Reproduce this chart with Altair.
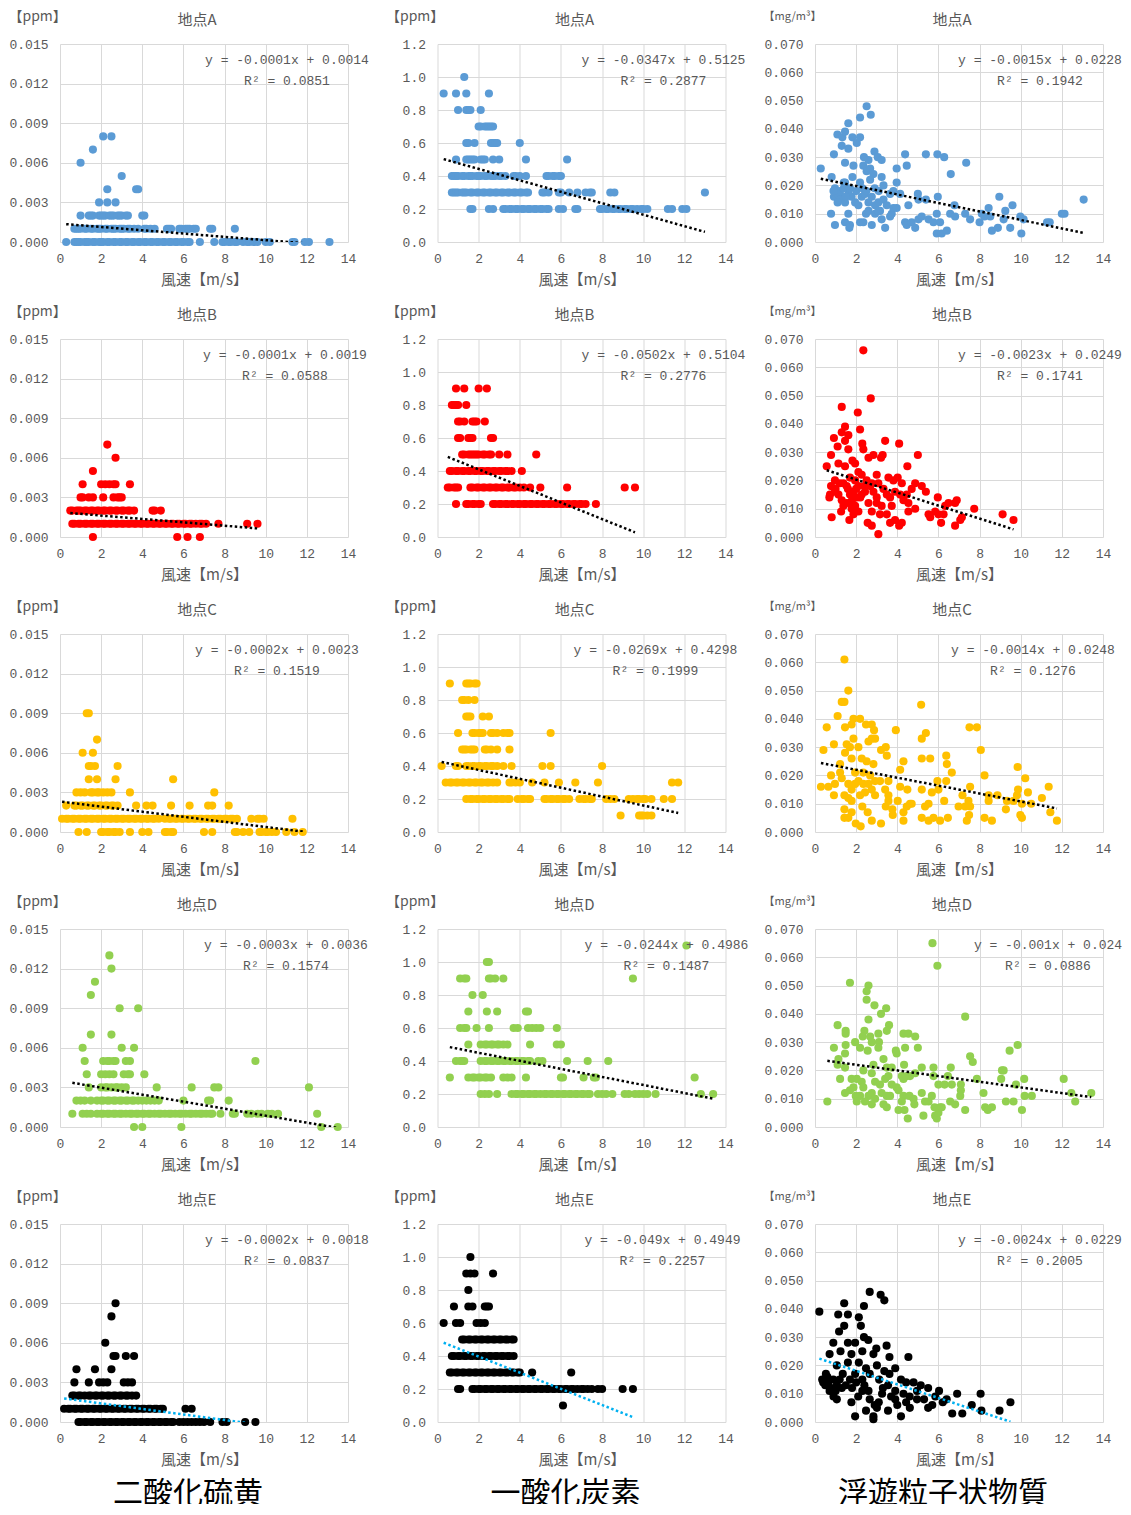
import altair as alt
import pandas as pd

# ---------------- labels / ticks ----------------
SITES = ["地点A", "地点B", "地点C", "地点D", "地点E"]
POLLUTANTS = ["二酸化硫黄", "一酸化炭素", "浮遊粒子状物質"]
UNITS = ["【ppm】", "【ppm】", "【mg/m³】"]
X_TICKS = [0, 2, 4, 6, 8, 10, 12, 14]
SO2_TICKS = [0.0, 0.003, 0.006, 0.009, 0.012, 0.015]
CO_TICKS = [0.0, 0.2, 0.4, 0.6, 0.8, 1.0, 1.2]
SPM_TICKS = [0.0, 0.01, 0.02, 0.03, 0.04, 0.05, 0.06, 0.07]
COLORS = ["#5B9BD5", "#FF0000", "#FFC000", "#92D050", "#000000"]
TREND_COLORS = ["#000000", "#000000", "#000000", "#000000", "#00B0F0"]

EQ_SO2 = ["y = -0.0001x + 0.0014", "y = -0.0001x + 0.0019", "y = -0.0002x + 0.0023",
          "y = -0.0003x + 0.0036", "y = -0.0002x + 0.0018"]
R2_SO2 = ["R² = 0.0851", "R² = 0.0588", "R² = 0.1519", "R² = 0.1574", "R² = 0.0837"]
EQ_CO = ["y = -0.0347x + 0.5125", "y = -0.0502x + 0.5104", "y = -0.0269x + 0.4298",
         "y = -0.0244x + 0.4986", "y = -0.049x + 0.4949"]
R2_CO = ["R² = 0.2877", "R² = 0.2776", "R² = 0.1999", "R² = 0.1487", "R² = 0.2257"]
EQ_SPM = ["y = -0.0015x + 0.0228", "y = -0.0023x + 0.0249", "y = -0.0014x + 0.0248",
          "y = -0.001x + 0.024", "y = -0.0024x + 0.0229"]
R2_SPM = ["R² = 0.1942", "R² = 0.1741", "R² = 0.1276", "R² = 0.0886", "R² = 0.2005"]

# trend lines (slope, intercept) as drawn
TREND_SO2 = [(-0.000125, 0.00139), (-0.000128, 0.00188), (-0.000193, 0.00231),
             (-0.000265, 0.00351), (-0.00021, 0.00183)]
TREND_CO = [(-0.0347, 0.5125), (-0.0502, 0.5104), (-0.0269, 0.4298),
            (-0.0244, 0.4986), (-0.049, 0.4949)]
TREND_SPM = [(-0.0015, 0.0228), (-0.0023, 0.0249), (-0.0014, 0.0248),
             (-0.001, 0.024), (-0.0024, 0.0229)]

# ---------------- SO2 data (level -> wind speeds) ----------------
SO2_A = {
    0.008: [2.1, 2.5], 0.007: [1.6], 0.006: [1.0], 0.005: [3.0],
    0.004: [2.3, 3.7, 3.8], 0.003: [1.9, 2.3, 2.7],
    0.002: [1.0, 1.4, 1.5, 1.6, 1.9, 2.0, 2.1, 2.2, 2.4, 2.5, 2.6, 2.8, 2.9, 3.0, 3.2, 3.3, 4.0, 4.1],
    0.001: [0.7, 0.8, 0.9, 1.0, 1.2, 1.3, 1.5, 1.6, 1.8, 1.9, 2.0, 2.2, 2.3, 2.5, 2.6, 2.7, 2.9, 3.0,
            3.1, 3.3, 3.4, 3.6, 3.8, 4.1, 4.2, 4.4, 4.6, 5.2, 5.3, 5.4, 5.8, 5.9, 6.1, 6.2, 6.3, 6.5,
            6.6, 7.3, 7.4, 8.5],
    0.000: [0.3, 0.7, 0.8, 0.9, 1.0, 1.2, 1.3, 1.4, 1.6, 1.7, 1.9, 2.0, 2.1, 2.3, 2.4, 2.6, 2.7, 2.9,
            3.0, 3.2, 3.3, 3.5, 3.6, 3.8, 3.9, 4.1, 4.2, 4.4, 4.5, 4.7, 4.8, 5.0, 5.1, 5.3, 5.4, 5.6,
            5.7, 5.9, 6.0, 6.2, 6.3, 6.8, 7.5, 7.9, 8.0, 8.2, 8.3, 8.5, 8.6, 8.9, 9.1, 9.2, 9.4, 9.6,
            10.0, 10.2, 11.3, 11.4, 11.9, 12.1, 13.1],
}
SO2_B = {
    0.007: [2.3], 0.006: [2.7], 0.005: [1.6],
    0.004: [1.1, 2.0, 2.2, 2.4, 2.6, 2.7, 3.4],
    0.003: [1.0, 1.1, 1.4, 1.6, 2.1, 2.6, 2.8, 2.9, 3.0],
    0.002: [0.5, 0.6, 0.8, 0.9, 1.0, 1.2, 1.3, 1.5, 1.6, 1.8, 1.9, 2.1, 2.2, 2.4, 2.5, 2.7, 2.8, 3.0,
            3.1, 3.3, 3.4, 3.6, 4.5, 4.6, 4.9],
    0.001: [0.6, 0.7, 0.9, 1.0, 1.2, 1.3, 1.5, 1.6, 1.8, 1.9, 2.1, 2.2, 2.4, 2.5, 2.7, 2.8, 3.0, 3.1,
            3.3, 3.4, 3.6, 3.7, 3.9, 4.0, 4.2, 4.3, 4.5, 4.6, 4.8, 4.9, 5.1, 5.2, 5.4, 5.5, 5.7, 5.8,
            6.0, 6.1, 6.3, 6.4, 6.6, 6.8, 6.9, 7.1, 7.7, 9.1, 9.6],
    0.000: [1.6, 5.7, 6.2, 6.8],
}
SO2_C = {
    0.009: [1.3, 1.4], 0.007: [1.8], 0.006: [1.1, 1.6],
    0.005: [1.4, 1.5, 1.7, 2.8], 0.004: [1.4, 1.8, 2.7, 5.5],
    0.003: [0.8, 1.0, 1.2, 1.5, 1.6, 1.8, 1.9, 2.1, 2.3, 2.5, 3.4, 7.5],
    0.002: [0.3, 0.7, 0.8, 1.0, 1.1, 1.3, 1.4, 1.6, 1.7, 1.9, 2.0, 2.2, 2.3, 2.5, 2.6, 2.8, 3.7, 4.2,
            4.5, 5.4, 6.3, 7.2, 7.4, 8.2],
    0.001: [0.1, 0.3, 0.4, 0.6, 0.7, 0.9, 1.0, 1.2, 1.3, 1.5, 1.6, 1.8, 1.9, 2.1, 2.2, 2.4, 2.5, 2.7,
            2.8, 3.0, 3.1, 3.3, 3.4, 3.6, 3.7, 3.9, 4.0, 4.2, 4.3, 4.5, 4.6, 4.8, 5.1, 5.3, 5.4, 5.6,
            5.7, 5.9, 6.0, 6.2, 6.3, 6.5, 6.6, 6.8, 6.9, 7.1, 7.2, 7.4, 7.5, 7.7, 7.8, 8.0, 8.1, 8.3,
            8.4, 8.6, 9.3, 9.6, 9.7, 9.9, 11.3],
    0.000: [0.9, 1.3, 2.0, 2.1, 2.3, 2.4, 2.6, 2.7, 2.9, 3.4, 4.0, 4.3, 5.1, 5.2, 5.4, 5.5, 7.0, 7.4,
            8.5, 8.6, 8.9, 9.2, 9.7, 9.8, 10.0, 10.1, 10.3, 10.5, 11.0, 11.4, 11.8],
}
SO2_D = {
    0.013: [2.4], 0.012: [2.5], 0.011: [1.7], 0.010: [1.5], 0.009: [2.9, 3.8],
    0.007: [1.5, 2.5], 0.006: [1.1, 3.0, 3.6],
    0.005: [1.2, 2.1, 2.3, 2.4, 2.6, 2.7, 3.2, 3.4, 9.5],
    0.004: [1.3, 2.0, 2.2, 2.4, 2.6, 3.1, 3.3, 3.4, 4.1],
    0.003: [1.4, 2.0, 2.2, 2.3, 2.5, 2.7, 2.8, 3.0, 3.2, 4.7, 6.4, 7.5, 7.7, 12.1],
    0.002: [0.8, 1.0, 1.2, 1.5, 1.8, 2.0, 2.1, 2.3, 2.4, 2.6, 2.7, 2.9, 3.0, 3.2, 3.3, 3.5, 3.6, 3.8,
            4.0, 4.2, 4.4, 4.6, 4.8, 6.0, 7.2, 7.3, 8.2],
    0.001: [0.6, 1.1, 1.3, 1.5, 1.8, 2.0, 2.1, 2.3, 2.4, 2.6, 2.7, 2.9, 3.0, 3.2, 3.4, 3.5, 3.7, 3.8,
            4.0, 4.1, 4.3, 4.4, 4.6, 4.8, 4.9, 5.1, 5.3, 5.4, 5.6, 5.8, 5.9, 6.1, 6.3, 6.4, 6.6, 6.8,
            6.9, 7.1, 7.3, 7.4, 7.8, 8.4, 8.5, 9.1, 9.3, 9.6, 9.8, 10.1, 10.3, 10.6, 12.5],
    0.000: [3.6, 4.0, 5.9, 12.7, 13.5],
}
SO2_E = {
    0.009: [2.7], 0.008: [2.5], 0.006: [2.2], 0.005: [2.6, 2.7, 3.2, 3.6],
    0.004: [0.8, 1.7, 2.5],
    0.003: [0.7, 1.4, 1.9, 2.1, 2.3, 3.1, 3.3, 3.5],
    0.002: [0.6, 0.7, 0.9, 1.0, 1.2, 1.4, 1.5, 1.7, 1.8, 2.0, 2.1, 2.3, 2.4, 2.6, 2.7, 2.9, 3.0, 3.2,
            3.3, 3.5, 3.7],
    0.001: [0.2, 0.4, 0.5, 0.7, 0.8, 1.0, 1.1, 1.3, 1.4, 1.6, 1.7, 1.9, 2.0, 2.2, 2.3, 2.5, 2.6, 2.8,
            2.9, 3.1, 3.2, 3.4, 3.5, 3.7, 3.8, 4.0, 4.1, 4.3, 4.4, 4.6, 4.7, 4.9, 5.0, 6.1, 6.4],
    0.000: [0.9, 1.0, 1.2, 1.3, 1.5, 1.6, 1.8, 1.9, 2.1, 2.2, 2.4, 2.5, 2.7, 2.8, 3.0, 3.1, 3.3, 3.4,
            3.6, 3.7, 3.9, 4.0, 4.2, 4.3, 4.5, 4.6, 4.8, 4.9, 5.1, 5.2, 5.4, 5.5, 5.8, 6.0, 6.2, 6.4,
            6.6, 6.8, 7.0, 7.3, 7.9, 8.1, 9.0, 9.5],
}

# ---------------- CO data (level -> wind speeds) ----------------
CO_A = {
    1.0: [1.3], 0.9: [0.3, 0.9, 1.4, 2.5], 0.8: [1.0, 1.4, 1.5, 1.6, 2.1],
    0.7: [2.0, 2.1, 2.3, 2.4, 2.5, 2.6, 2.7],
    0.6: [1.4, 1.5, 1.8, 2.6, 2.7, 2.8, 2.9, 4.0],
    0.5: [0.9, 1.4, 1.5, 1.6, 1.7, 1.8, 2.1, 2.2, 2.3, 2.7, 3.0, 4.3, 6.3],
    0.4: [0.7, 0.8, 0.9, 1.0, 1.2, 1.3, 1.5, 1.6, 1.7, 1.9, 2.0, 2.1, 2.3, 2.4, 2.6, 2.7, 2.8, 3.0,
          3.1, 3.3, 3.7, 3.8, 4.0, 4.3, 5.3, 5.4, 5.6, 5.7, 5.9, 6.0],
    0.3: [0.7, 0.8, 0.9, 1.0, 1.2, 1.3, 1.4, 1.6, 1.7, 1.9, 2.0, 2.2, 2.3, 2.5, 2.6, 2.8, 2.9, 3.1,
          3.2, 3.4, 3.5, 3.7, 3.8, 4.0, 4.1, 4.3, 4.4, 5.1, 5.2, 5.4, 5.9, 6.0, 6.4, 6.8, 7.2, 7.4,
          7.5, 8.4, 8.6, 13.0],
    0.2: [1.6, 1.7, 2.5, 2.7, 3.2, 3.3, 3.5, 3.6, 3.8, 3.9, 4.1, 4.2, 4.4, 4.5, 4.7, 4.8, 5.0, 5.1,
          5.3, 5.4, 5.9, 6.1, 6.7, 6.8, 7.9, 8.0, 8.2, 8.3, 8.5, 8.6, 8.8, 8.9, 9.1, 9.2, 9.4, 9.5,
          9.7, 9.9, 10.0, 10.2, 11.2, 11.4, 11.9, 12.1],
}
CO_B = {
    0.9: [0.9, 1.3, 2.0, 2.4], 0.8: [0.7, 0.8, 0.9, 1.0, 1.4],
    0.7: [1.0, 1.1, 1.3, 1.7, 1.8, 1.9, 2.3],
    0.6: [1.0, 1.1, 1.5, 1.6, 1.7, 2.6, 2.7],
    0.5: [1.2, 1.3, 1.5, 1.6, 1.7, 1.8, 1.9, 2.0, 2.2, 2.3, 2.5, 2.6, 3.0, 3.4, 4.8],
    0.4: [0.6, 0.7, 0.9, 1.0, 1.2, 1.3, 1.5, 1.6, 1.8, 1.9, 2.1, 2.2, 2.4, 2.5, 2.7, 2.8, 3.0, 3.1,
          3.3, 3.4, 3.6, 4.1],
    0.3: [0.5, 0.6, 0.8, 0.9, 1.0, 1.6, 1.7, 1.9, 2.0, 2.2, 2.3, 2.5, 2.6, 2.8, 2.9, 3.1, 3.2, 3.4,
          3.5, 3.7, 3.8, 4.0, 4.2, 4.5, 5.0, 6.3, 9.1, 9.6],
    0.2: [0.9, 1.4, 1.5, 1.7, 1.8, 2.0, 2.1, 2.7, 2.8, 3.0, 3.1, 3.3, 3.4, 3.6, 3.7, 3.9, 4.0, 4.2,
          4.3, 4.5, 4.6, 4.8, 4.9, 5.1, 5.2, 5.4, 5.5, 5.7, 5.8, 6.0, 6.1, 6.3, 6.4, 6.6, 6.7, 6.9,
          7.0, 7.2, 7.7],
}
CO_C = {
    0.9: [0.6, 1.4, 1.5, 1.6, 1.8, 1.9], 0.8: [1.2, 1.3, 1.5, 1.8],
    0.7: [1.4, 1.5, 1.6, 2.2, 2.5],
    0.6: [1.0, 1.7, 1.8, 2.0, 2.1, 2.2, 2.6, 2.7, 2.9, 3.2, 3.4, 3.5, 5.5],
    0.5: [1.2, 1.3, 1.4, 1.6, 1.7, 1.8, 2.3, 2.4, 2.6, 2.9, 3.5],
    0.4: [0.2, 0.9, 1.0, 1.4, 1.5, 1.7, 1.8, 2.0, 2.1, 2.3, 2.4, 2.6, 2.7, 2.9, 3.2, 3.6, 5.1, 5.5, 8.0],
    0.3: [0.4, 0.6, 0.7, 0.9, 1.0, 1.2, 1.3, 1.5, 1.6, 1.8, 1.9, 2.1, 2.2, 2.4, 2.5, 2.7, 2.9, 3.5,
          3.6, 3.8, 4.0, 4.6, 5.2, 5.9, 6.7, 7.8, 11.4, 11.7],
    0.2: [1.4, 1.6, 1.7, 1.9, 2.0, 2.2, 2.3, 2.5, 2.6, 2.8, 2.9, 3.1, 3.2, 3.4, 3.5, 3.9, 4.1, 4.2,
          4.4, 4.5, 5.2, 5.3, 5.5, 5.6, 5.8, 5.9, 6.1, 6.2, 6.4, 6.9, 7.1, 7.2, 7.4, 7.5, 8.2, 8.4,
          8.6, 9.3, 9.5, 9.7, 9.8, 10.0, 10.1, 10.4, 11.0, 11.4],
    0.1: [8.9, 9.8, 9.9, 10.0, 10.2, 10.4],
}
CO_D = {
    1.1: [12.1], 1.0: [2.4, 2.5], 0.9: [1.1, 1.3, 1.4, 2.5, 2.6, 2.8, 3.2, 9.5],
    0.8: [1.7, 2.2], 0.7: [1.5, 2.4, 2.9, 4.3, 4.4],
    0.6: [1.1, 1.3, 1.4, 1.9, 2.5, 3.7, 3.9, 4.4, 4.6, 4.8, 5.0, 5.8],
    0.5: [1.5, 2.1, 2.3, 2.4, 2.6, 2.7, 2.9, 3.0, 3.2, 3.4, 4.5, 5.8, 6.0],
    0.4: [0.9, 1.1, 1.2, 1.3, 2.1, 2.3, 2.4, 2.6, 2.7, 2.9, 3.0, 3.2, 3.3, 3.5, 3.6, 3.8, 3.9, 4.1,
          4.2, 4.4, 4.5, 4.9, 5.1, 6.3, 7.3, 8.3],
    0.3: [0.6, 1.5, 1.7, 1.8, 2.0, 2.1, 2.3, 2.4, 2.6, 3.2, 3.4, 3.6, 4.3, 6.0, 6.1, 7.1, 7.6, 7.7, 12.5],
    0.2: [2.1, 2.3, 2.5, 2.9, 3.6, 3.8, 3.9, 4.1, 4.2, 4.4, 4.5, 4.7, 4.8, 5.0, 5.2, 5.3, 5.5, 5.6,
          5.8, 5.9, 6.1, 6.2, 6.4, 6.5, 6.7, 6.8, 7.0, 7.1, 7.3, 7.4, 7.8, 8.0, 8.2, 8.5, 9.1, 9.3,
          9.6, 9.8, 10.0, 10.2, 10.6, 12.8, 13.4],
}
CO_E = {
    1.0: [1.6], 0.9: [1.4, 1.6, 1.8, 2.7], 0.8: [1.5],
    0.7: [0.8, 1.5, 1.7, 2.3, 2.4, 2.5],
    0.6: [0.3, 0.9, 1.1, 1.9, 2.1, 2.3],
    0.5: [1.2, 1.3, 1.5, 1.6, 1.8, 1.9, 2.1, 2.2, 2.4, 2.5, 2.7, 2.8, 3.0, 3.1, 3.3, 3.4, 3.6, 3.7],
    0.4: [0.7, 0.8, 1.0, 1.1, 1.3, 1.4, 1.6, 1.7, 1.9, 2.0, 2.2, 2.3, 2.5, 2.6, 2.8, 2.9, 3.1, 3.2,
          3.4, 3.5, 3.7],
    0.3: [0.6, 0.7, 0.9, 1.0, 1.2, 1.3, 1.5, 1.6, 1.8, 1.9, 2.1, 2.2, 2.4, 2.5, 2.7, 2.8, 3.0, 3.1,
          3.3, 3.4, 3.6, 3.7, 3.9, 4.0, 4.6, 6.5],
    0.2: [1.0, 1.1, 1.7, 1.8, 2.0, 2.1, 2.3, 2.4, 2.6, 2.7, 2.9, 3.0, 3.2, 3.3, 3.5, 3.6, 3.8, 3.9,
          4.1, 4.2, 4.4, 4.5, 4.7, 4.8, 5.0, 5.1, 5.3, 5.4, 5.6, 5.7, 5.9, 6.0, 6.2, 6.3, 6.5, 6.6,
          6.8, 7.0, 7.1, 7.3, 7.5, 7.8, 8.0, 9.0, 9.5],
    0.1: [6.1],
}

# ---------------- SPM data (wind speed, concentration) ----------------
SPM_A = [
    (0.28, 0.026), (0.81, 0.023), (0.92, 0.031), (0.78, 0.010), (0.97, 0.006), (1.09, 0.038),
    (1.33, 0.037), (1.46, 0.039), (1.62, 0.042), (2.19, 0.044), (2.51, 0.048), (2.71, 0.045),
    (1.82, 0.037), (2.03, 0.035), (2.19, 0.037), (1.62, 0.033), (1.30, 0.034), (1.46, 0.028),
    (1.87, 0.027), (2.38, 0.030), (2.60, 0.029), (2.89, 0.032), (3.05, 0.030), (3.24, 0.029),
    (1.82, 0.023), (1.46, 0.021), (2.19, 0.021), (2.35, 0.027), (2.51, 0.025), (2.68, 0.026),
    (2.84, 0.024), (3.24, 0.023), (3.33, 0.020), (2.68, 0.022), (0.97, 0.019), (1.22, 0.018),
    (0.92, 0.016), (1.30, 0.016), (1.46, 0.014), (1.62, 0.017), (1.78, 0.016), (1.95, 0.014),
    (2.11, 0.013), (2.27, 0.016), (2.43, 0.017), (2.60, 0.014), (2.76, 0.016), (2.92, 0.013),
    (3.08, 0.014), (3.16, 0.011), (3.33, 0.015), (3.49, 0.013), (1.62, 0.010), (1.46, 0.007),
    (1.70, 0.006), (1.67, 0.005), (2.19, 0.007), (2.35, 0.007), (2.48, 0.010), (2.76, 0.006),
    (2.60, 0.011), (2.92, 0.010), (3.08, 0.011), (3.24, 0.008), (3.41, 0.005), (3.65, 0.009),
    (3.73, 0.010), (3.81, 0.012), (3.65, 0.017), (3.81, 0.018), (3.97, 0.021), (3.97, 0.026),
    (3.97, 0.012), (4.14, 0.017), (4.38, 0.031), (4.46, 0.027), (4.38, 0.007), (4.46, 0.006),
    (4.54, 0.013), (4.70, 0.007), (4.87, 0.005), (5.03, 0.008), (5.00, 0.017), (5.03, 0.015),
    (5.19, 0.009), (5.39, 0.031), (5.39, 0.015), (5.52, 0.008), (5.76, 0.007), (5.92, 0.010),
    (5.97, 0.016), (5.95, 0.031), (6.08, 0.007), (5.92, 0.003), (6.16, 0.003), (6.41, 0.004),
    (6.28, 0.030), (6.60, 0.024), (6.57, 0.010), (6.78, 0.013), (6.81, 0.009), (7.30, 0.010),
    (7.35, 0.028), (7.54, 0.008), (8.00, 0.007), (8.11, 0.010), (8.24, 0.009), (8.44, 0.012),
    (8.52, 0.009), (8.60, 0.004), (8.89, 0.005), (8.96, 0.016), (9.17, 0.008), (9.25, 0.011),
    (9.49, 0.005), (9.60, 0.013), (9.98, 0.009), (10.03, 0.003), (10.14, 0.008), (11.28, 0.007),
    (11.41, 0.007), (12.00, 0.010), (12.13, 0.010), (13.06, 0.015), (1.10, 0.017), (1.20, 0.015),
    (1.40, 0.019), (1.50, 0.016), (1.70, 0.019), (2.00, 0.018), (2.30, 0.019), (2.50, 0.018),
    (2.90, 0.019), (3.10, 0.018), (1.10, 0.014), (1.40, 0.021), (0.90, 0.018),
]
SPM_B = [
    (2.35, 0.066), (2.71, 0.049), (1.30, 0.046), (2.08, 0.044), (2.19, 0.038), (1.46, 0.039),
    (1.30, 0.037), (1.62, 0.036), (0.92, 0.035), (1.10, 0.032), (1.46, 0.034), (1.62, 0.031),
    (2.30, 0.033), (2.35, 0.031), (3.41, 0.034), (4.09, 0.033), (0.78, 0.029), (1.14, 0.026),
    (1.82, 0.027), (1.95, 0.026), (2.60, 0.028), (2.84, 0.029), (3.21, 0.028), (3.29, 0.029),
    (5.00, 0.029), (4.49, 0.025), (0.57, 0.025), (1.46, 0.025), (2.11, 0.023), (2.27, 0.022),
    (3.00, 0.022), (0.97, 0.020), (1.38, 0.019), (1.70, 0.021), (1.95, 0.020), (2.51, 0.020),
    (2.76, 0.019), (3.08, 0.019), (3.57, 0.021), (3.81, 0.020), (4.02, 0.021), (4.22, 0.019),
    (4.87, 0.019), (5.19, 0.018), (5.39, 0.016), (0.78, 0.018), (0.73, 0.015), (0.70, 0.014),
    (0.97, 0.016), (1.14, 0.015), (1.30, 0.013), (1.54, 0.018), (1.70, 0.015), (1.87, 0.016),
    (2.03, 0.014), (2.11, 0.018), (2.27, 0.015), (2.43, 0.016), (2.68, 0.018), (2.84, 0.016),
    (3.00, 0.014), (3.33, 0.017), (3.49, 0.015), (3.65, 0.014), (3.89, 0.016), (4.14, 0.015),
    (4.30, 0.013), (4.46, 0.015), (4.70, 0.017), (1.38, 0.011), (1.54, 0.012), (1.78, 0.010),
    (1.95, 0.011), (2.11, 0.009), (1.87, 0.008), (1.27, 0.009), (0.81, 0.007), (1.67, 0.006),
    (2.60, 0.012), (2.76, 0.009), (3.00, 0.012), (3.24, 0.011), (3.16, 0.008), (3.49, 0.008),
    (3.73, 0.011), (3.65, 0.005), (3.89, 0.006), (4.09, 0.004), (4.22, 0.005), (4.54, 0.012),
    (4.54, 0.009), (4.87, 0.010), (2.56, 0.005), (2.76, 0.004), (3.08, 0.001), (5.52, 0.008),
    (5.60, 0.007), (5.84, 0.009), (5.97, 0.014), (6.00, 0.008), (6.13, 0.005), (6.25, 0.008),
    (6.33, 0.011), (6.49, 0.012), (6.81, 0.012), (6.89, 0.013), (6.81, 0.004), (7.06, 0.006),
    (7.14, 0.007), (7.74, 0.010), (9.12, 0.008), (9.65, 0.006), (1.0, 0.017), (1.2, 0.019),
    (1.6, 0.017), (1.8, 0.013), (2.0, 0.017), (2.2, 0.014), (2.4, 0.018), (1.7, 0.012),
]
SPM_C = [
    (1.43, 0.061), (1.62, 0.050), (1.30, 0.046), (1.43, 0.046), (5.16, 0.045), (1.10, 0.041),
    (0.57, 0.037), (1.46, 0.037), (1.78, 0.038), (1.87, 0.040), (2.19, 0.040), (2.48, 0.038),
    (2.76, 0.038), (2.87, 0.036), (3.93, 0.036), (7.51, 0.037), (7.87, 0.037), (5.19, 0.033),
    (5.39, 0.035), (1.87, 0.033), (2.60, 0.032), (2.76, 0.033), (2.92, 0.033), (0.41, 0.029),
    (0.92, 0.031), (1.54, 0.031), (1.70, 0.030), (2.11, 0.030), (3.21, 0.029), (3.44, 0.030),
    (3.49, 0.027), (8.06, 0.029), (6.38, 0.027), (5.19, 0.026), (5.60, 0.026), (1.46, 0.028),
    (1.78, 0.026), (2.27, 0.026), (2.51, 0.025), (2.84, 0.024), (1.22, 0.024), (6.41, 0.024),
    (6.65, 0.021), (9.85, 0.023), (0.78, 0.020), (1.22, 0.021), (1.95, 0.021), (2.35, 0.021),
    (2.68, 0.020), (4.14, 0.022), (4.30, 0.025), (8.24, 0.020), (10.22, 0.019), (0.29, 0.016),
    (0.65, 0.016), (0.97, 0.017), (1.30, 0.019), (1.62, 0.017), (1.78, 0.015), (1.95, 0.017),
    (2.11, 0.018), (2.35, 0.017), (2.60, 0.017), (2.76, 0.015), (2.92, 0.018), (3.16, 0.018),
    (3.57, 0.018), (3.41, 0.015), (3.57, 0.013), (2.92, 0.013), (4.14, 0.016), (4.49, 0.015),
    (5.19, 0.015), (5.68, 0.014), (5.95, 0.018), (6.00, 0.015), (6.38, 0.018), (7.54, 0.016),
    (7.17, 0.013), (8.44, 0.013), (8.87, 0.013), (9.82, 0.013), (9.87, 0.015), (10.35, 0.014),
    (11.03, 0.012), (11.36, 0.016), (0.92, 0.013), (1.43, 0.013), (1.62, 0.012), (1.78, 0.011),
    (2.19, 0.013), (2.43, 0.014), (3.57, 0.011), (4.02, 0.011), (2.30, 0.009), (2.56, 0.007),
    (1.43, 0.008), (1.78, 0.007), (1.43, 0.005), (1.62, 0.005), (1.98, 0.003), (2.22, 0.002),
    (2.76, 0.004), (3.21, 0.003), (3.44, 0.009), (3.76, 0.008), (3.78, 0.006), (4.30, 0.004),
    (4.30, 0.007), (4.46, 0.009), (4.62, 0.010), (4.70, 0.010), (5.19, 0.005), (5.52, 0.004),
    (5.52, 0.010), (5.35, 0.009), (5.76, 0.005), (6.08, 0.004), (6.28, 0.011), (6.46, 0.005),
    (6.98, 0.009), (7.30, 0.009), (7.46, 0.011), (7.49, 0.006), (7.38, 0.004), (7.54, 0.009),
    (8.24, 0.005), (8.44, 0.011), (8.60, 0.004), (9.28, 0.008), (9.33, 0.011), (9.65, 0.011),
    (9.98, 0.006), (10.06, 0.005), (10.06, 0.010), (10.51, 0.010), (11.44, 0.007), (11.76, 0.004),
]
SPM_D = [
    (5.71, 0.065), (5.95, 0.057), (1.70, 0.051), (2.60, 0.050), (2.51, 0.048), (2.51, 0.045),
    (2.89, 0.043), (3.21, 0.040), (3.46, 0.042), (7.30, 0.039), (2.60, 0.038), (1.10, 0.036),
    (3.60, 0.036), (3.49, 0.034), (1.49, 0.034), (1.49, 0.033), (2.40, 0.034), (4.30, 0.033),
    (4.54, 0.033), (4.87, 0.032), (1.95, 0.030), (2.32, 0.032), (2.68, 0.032), (2.76, 0.030),
    (3.08, 0.033), (3.11, 0.030), (0.92, 0.028), (1.49, 0.029), (2.19, 0.028), (2.56, 0.027),
    (3.08, 0.028), (3.93, 0.027), (4.38, 0.028), (5.00, 0.028), (9.46, 0.027), (9.85, 0.029),
    (1.46, 0.026), (3.97, 0.026), (7.54, 0.025), (7.67, 0.023), (1.14, 0.024), (3.33, 0.024),
    (4.33, 0.022), (2.84, 0.022), (1.10, 0.022), (1.46, 0.021), (2.35, 0.020), (2.76, 0.019),
    (3.49, 0.021), (3.73, 0.021), (4.22, 0.018), (4.87, 0.019), (5.19, 0.021), (5.76, 0.021),
    (6.60, 0.021), (9.09, 0.020), (9.17, 0.020), (5.76, 0.018), (6.46, 0.018), (7.09, 0.015),
    (7.87, 0.017), (9.05, 0.017), (10.17, 0.017), (9.77, 0.015), (12.09, 0.017), (1.22, 0.017),
    (1.78, 0.017), (2.03, 0.017), (2.27, 0.016), (1.87, 0.014), (1.70, 0.013), (2.35, 0.014),
    (2.92, 0.016), (3.16, 0.015), (3.41, 0.017), (3.57, 0.018), (3.73, 0.015), (3.97, 0.014),
    (4.30, 0.017), (4.46, 0.018), (4.62, 0.018), (6.00, 0.015), (6.30, 0.015), (6.65, 0.015),
    (7.09, 0.013), (1.46, 0.012), (1.98, 0.011), (2.19, 0.011), (2.03, 0.009), (2.60, 0.011),
    (2.76, 0.012), (2.92, 0.010), (3.24, 0.012), (3.49, 0.011), (3.65, 0.011), (3.33, 0.008),
    (3.49, 0.007), (2.76, 0.008), (2.43, 0.009), (4.06, 0.013), (4.30, 0.011), (4.22, 0.009),
    (4.06, 0.006), (4.35, 0.006), (4.51, 0.003), (4.59, 0.011), (4.79, 0.010), (4.83, 0.008),
    (5.19, 0.012), (5.27, 0.004), (5.35, 0.009), (5.52, 0.009), (5.68, 0.011), (5.81, 0.007),
    (5.84, 0.004), (5.92, 0.003), (6.00, 0.005), (6.08, 0.007), (6.16, 0.007), (6.57, 0.009),
    (6.81, 0.008), (7.06, 0.011), (7.30, 0.006), (8.19, 0.012), (8.27, 0.007), (8.40, 0.006),
    (8.60, 0.007), (9.28, 0.009), (9.65, 0.009), (10.06, 0.006), (10.19, 0.011), (10.54, 0.011),
    (12.46, 0.012), (12.65, 0.009), (13.43, 0.012), (0.60, 0.009),
]
SPM_E = [
    (0.21, 0.039), (1.42, 0.042), (1.13, 0.038), (1.60, 0.038), (2.38, 0.041), (2.13, 0.037),
    (2.66, 0.046), (3.19, 0.045), (3.37, 0.043), (1.42, 0.034), (1.17, 0.032), (2.23, 0.034),
    (2.38, 0.030), (2.59, 0.029), (0.89, 0.028), (1.60, 0.028), (1.95, 0.028), (2.98, 0.026),
    (3.48, 0.027), (0.71, 0.024), (1.24, 0.025), (1.77, 0.024), (2.30, 0.025), (2.84, 0.024),
    (3.62, 0.023), (4.54, 0.023), (1.06, 0.020), (1.60, 0.021), (2.13, 0.021), (2.48, 0.019),
    (3.01, 0.020), (3.37, 0.018), (3.90, 0.019), (0.53, 0.017), (0.35, 0.015), (0.64, 0.014),
    (0.89, 0.015), (1.06, 0.013), (1.35, 0.017), (1.70, 0.015), (1.95, 0.017), (2.30, 0.015),
    (2.66, 0.017), (3.12, 0.015), (3.62, 0.017), (4.18, 0.015), (4.43, 0.014), (5.14, 0.013),
    (5.50, 0.012), (6.03, 0.011), (6.91, 0.010), (8.05, 0.010), (0.71, 0.011), (1.06, 0.008),
    (1.77, 0.007), (1.95, 0.002), (2.30, 0.011), (2.66, 0.008), (2.84, 0.002), (3.01, 0.005),
    (3.26, 0.010), (3.55, 0.004), (3.90, 0.008), (4.18, 0.002), (4.43, 0.007), (4.61, 0.005),
    (4.96, 0.008), (5.50, 0.005), (5.85, 0.009), (6.21, 0.007), (6.67, 0.003), (7.16, 0.003),
    (7.62, 0.006), (8.09, 0.004), (8.97, 0.004), (9.50, 0.007), (4.96, 0.011), (3.55, 0.013),
    (3.90, 0.011), (2.48, 0.004), (2.84, 0.001), (4.79, 0.014), (0.40, 0.014), (0.50, 0.013),
    (0.60, 0.016), (0.80, 0.012), (1.00, 0.011), (1.20, 0.015), (1.30, 0.012), (0.90, 0.009),
    (1.50, 0.013), (1.80, 0.012), (2.00, 0.014), (2.10, 0.009), (2.40, 0.013), (2.60, 0.011),
    (2.90, 0.006), (3.10, 0.007), (3.30, 0.012), (3.70, 0.009), (4.00, 0.006), (4.30, 0.010),
    (4.60, 0.009), (5.30, 0.008), (5.70, 0.006), (6.40, 0.008),
]

# ---------------- styling ----------------
FONT_NUM = "'Liberation Mono', 'Noto Sans CJK JP', monospace"
FONT_JP = "'Noto Sans CJK JP', sans-serif"
GRAY = "#595959"
GRID = "#D9D9D9"
W, H = 288, 198
# equation label centre (pixels from plot left) per pollutant column, per site row
EQ_X = [[227, 225, 217, 226, 227],
        [226, 226, 218, 229, 225],
        [225, 225, 218, 233, 225]]
UNIT_X = [-52, -52, -52]


def levels_df(levels):
    xs, ys = [], []
    for lv, vals in levels.items():
        xs += vals
        ys += [lv] * len(vals)
    return pd.DataFrame({"x": xs, "y": ys})


def pairs_df(pairs):
    return pd.DataFrame({"x": [p[0] for p in pairs], "y": [p[1] for p in pairs]})


KINDS = [
    dict(data=[levels_df(d) for d in (SO2_A, SO2_B, SO2_C, SO2_D, SO2_E)], dom=[0, 0.015],
         ticks=SO2_TICKS, fmt=".3f", eq=EQ_SO2, r2=R2_SO2, trend=TREND_SO2, usize=14),
    dict(data=[levels_df(d) for d in (CO_A, CO_B, CO_C, CO_D, CO_E)], dom=[0, 1.2],
         ticks=CO_TICKS, fmt=".1f", eq=EQ_CO, r2=R2_CO, trend=TREND_CO, usize=14),
    dict(data=[pairs_df(d) for d in (SPM_A, SPM_B, SPM_C, SPM_D, SPM_E)], dom=[0, 0.07],
         ticks=SPM_TICKS, fmt=".3f", eq=EQ_SPM, r2=R2_SPM, trend=TREND_SPM, usize=11),
]


def text_layer(txt, x, y, font, size, color):
    return alt.Chart(pd.DataFrame({"t": [txt]})).mark_text(
        font=font, fontSize=size, color=color, align="center", baseline="middle"
    ).encode(x=alt.value(x), y=alt.value(y), text="t:N")


def panel(k, i):
    kd = KINDS[k]
    df = kd["data"][i]
    xenc = alt.X("x:Q", scale=alt.Scale(domain=[0, 14], nice=False, zero=False),
                 axis=alt.Axis(values=X_TICKS, format="d", title="風速【m/s】"))
    yenc = alt.Y("y:Q", scale=alt.Scale(domain=kd["dom"], nice=False, zero=False),
                 axis=alt.Axis(values=kd["ticks"], format=kd["fmt"], title=UNITS[k],
                               titleAngle=0, titleAlign="left", titleBaseline="middle",
                               titleX=UNIT_X[k], titleY=-28, titleFontSize=kd["usize"]))
    pts = alt.Chart(df).mark_circle(size=66, opacity=1, color=COLORS[i]).encode(x=xenc, y=yenc)
    slope, icpt = kd["trend"][i]
    x0, x1 = float(df["x"].min()), float(df["x"].max())
    tdf = pd.DataFrame({"x": [x0, x1], "y": [slope * x0 + icpt, slope * x1 + icpt]})
    line = alt.Chart(tdf).mark_line(color=TREND_COLORS[i], strokeWidth=2.5, strokeDash=[2.5, 2.5],
                                    clip=True).encode(x=xenc, y=yenc)
    layers = [pts, line,
              text_layer(kd["eq"][i], EQ_X[k][i], 16, FONT_NUM, 13, GRAY),
              text_layer(kd["r2"][i], EQ_X[k][i], 37, FONT_NUM, 13, GRAY),
              text_layer(SITES[i], W / 2 - 7, -24, FONT_JP, 15, GRAY)]
    if i == 4:
        layers.append(text_layer(POLLUTANTS[k], W / 2 - 16, H + 72, FONT_JP, 30, "#000000"))
    return alt.layer(*layers).properties(width=W, height=H)


cells = [panel(k, i) for i in range(5) for k in range(3)]

chart = alt.concat(*cells, columns=3, spacing={"row": 97, "column": 89.5}, bounds="flush").properties(
    padding={"left": 0, "top": 1, "right": -1, "bottom": -5}
).configure_view(stroke=None).configure_axis(
    grid=True, gridColor=GRID, gridWidth=1, domain=False, ticks=False,
    labelFont=FONT_NUM, labelFontSize=13, labelColor=GRAY, labelOverlap=False,
    titleFont=FONT_JP, titleFontSize=15, titleFontWeight="normal", titleColor=GRAY,
).configure_axisX(labelPadding=10, titlePadding=7, labelFlush=False).configure_axisY(labelPadding=12)

chart.save("out.html", embed_options={"renderer": "svg", "actions": False})
